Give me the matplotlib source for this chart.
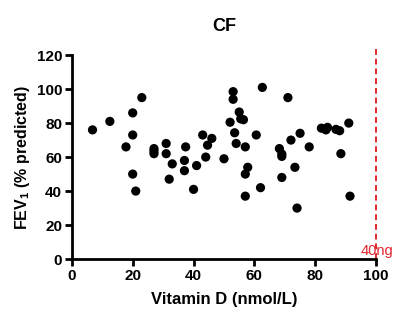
import matplotlib
matplotlib.use("Agg")
import matplotlib.pyplot as plt

# ===== DATA =====
vit_d = [6.8, 12.5, 17.8, 20, 20, 20, 21, 23, 27, 27, 27, 31, 31, 33, 32,
         37.4, 37, 37, 40, 41, 43, 44.6, 46, 44, 50, 52, 53, 53, 62.6, 71,
         55, 55.5, 56.4, 53.5, 54, 57, 57.8, 57, 57, 62, 60.6, 68.2, 69, 69,
         69, 73.3, 72, 75, 78, 74, 82, 83.5, 84, 86.8, 88, 88.4, 91, 91.4]
fev1 = [76, 81, 66, 86, 73, 50, 40, 95, 65, 63.5, 62, 68, 62, 56, 47,
        66, 58, 52, 41, 55, 73, 67, 71, 60, 59, 80.5, 98.5, 94, 101, 95,
        86.5, 82.5, 82, 74.3, 68, 66, 54, 50, 37, 42, 73, 65, 61.8, 60.4,
        48, 54, 70, 74, 66, 30, 77, 76, 77.5, 76.3, 75.5, 62, 80, 37]

x_ticks = [0, 20, 40, 60, 80, 100]
y_ticks = [0, 20, 40, 60, 80, 100, 120]
cutoff = 100
cutoff_label = "40ng"

# ===== PLOT =====
plt.rcParams['font.family'] = ['Liberation Sans', 'DejaVu Sans']
plt.rcParams['font.weight'] = 'bold'
plt.rcParams['mathtext.fontset'] = 'custom'
plt.rcParams['mathtext.bf'] = 'Liberation Sans:bold'
plt.rcParams['mathtext.rm'] = 'Liberation Sans:bold'

fig = plt.figure(figsize=(4.08, 3.3), dpi=100)
ax = fig.add_axes([0.176, 0.215, 0.746, 0.618])

ax.scatter(vit_d, fev1, s=44, color='black', edgecolors='none', zorder=3)

# cut-off line
ax.plot([cutoff, cutoff], [0, 126], color='#e0262f', linestyle=(0, (3, 2)),
        linewidth=1.4, clip_on=False, zorder=2)
ax.text(cutoff + 0.3, 5, cutoff_label, color='#e0262f', fontsize=10.5,
        fontweight='normal', ha='center', va='center', zorder=1)

ax.set_xlim(0, 100)
ax.set_ylim(0, 120)
ax.set_xticks(x_ticks)
ax.set_yticks(y_ticks)

for s in ['top', 'right']:
    ax.spines[s].set_visible(False)
for s in ['left', 'bottom']:
    ax.spines[s].set_linewidth(2)

ax.tick_params(width=2, length=5, labelsize=11, pad=2)
for lab in ax.get_xticklabels() + ax.get_yticklabels():
    lab.set_fontweight('bold')

ax.set_title("CF", fontsize=13, fontweight='bold', pad=17)
ax.set_xlabel("Vitamin D (nmol/L)", fontsize=12, fontweight='bold', labelpad=7)
ax.set_ylabel("FEV$_1$ (% predicted)", fontsize=11.5, fontweight='bold',
              labelpad=3)

fig.savefig("out.png", dpi=100)
